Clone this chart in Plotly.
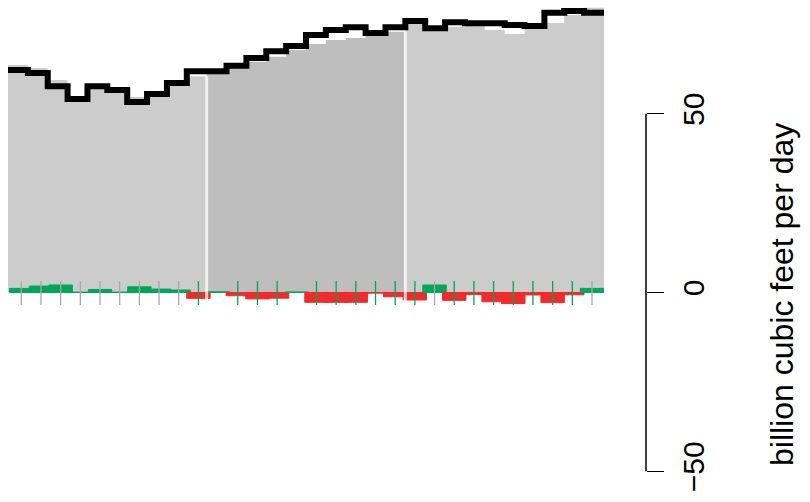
import numpy as np
import plotly.graph_objects as go

# ---- data ----
periods = list(range(1, 31))
segment = [1] * 10 + [2] * 10 + [3] * 10          # three shaded blocks
supply = [63.6, 62.8, 59.4, 54.8, 57.5, 56.5, 54.7, 55.5, 58.5, 60.5,
          61.1, 62.8, 64.5, 65.9, 67.8, 69.5, 70.6, 71.2, 72.0, 72.9,
          75.4, 73.8, 74.3, 74.8, 73.4, 72.3, 74.0, 75.4, 77.6, 79.6]
demand = [62.2, 61.4, 57.7, 54.1, 57.7, 56.6, 53.3, 55.5, 58.6, 61.9,
          61.9, 63.4, 65.6, 67.5, 68.9, 72.0, 73.4, 74.2, 72.6, 74.2,
          75.9, 73.9, 75.6, 75.3, 75.3, 74.8, 74.5, 78.2, 78.7, 78.2]
change = [1.15, 1.8, 2.1, 0.1, 0.85, 0.1, 1.6, 0.95, 0.7, -1.65,
          0.2, -0.9, -1.8, -1.6, 0.15, -2.75, -2.75, -2.75, -0.2, -1.2,
          -2.1, 2.1, -2.2, -0.6, -2.6, -3.1, -0.7, -2.85, -0.65, 1.15]
tick_kind = ["grey"] * 9 + ["green", None, "green", "green", "green", None] + \
            ["green"] * 6 + ["grey"] + ["green"] * 7 + ["grey"]
y_ticks = [-50, 0, 50]
y_title = "billion cubic feet per day"

# ---- styles ----
W, H = 810, 502
FONT = "Liberation Sans, Arial, Helvetica, sans-serif"
GREEN = "#00A65A"
RED = "#EE2C2C"
seg_color = {1: "#CCCCCC", 2: "#BEBEBE", 3: "#CCCCCC"}
tick_color = {"grey": "#A8A8A8", "green": GREEN}

n = len(periods)
fig = go.Figure()

# grey blocks: one stepped filled area per segment (no seams between bars)
for s in sorted(set(segment)):
    idx = [i for i in range(n) if segment[i] == s]
    xs = idx + [idx[-1] + 1]
    ys = [supply[i] for i in idx] + [supply[idx[-1]]]
    fig.add_trace(go.Scatter(
        x=xs, y=ys, mode="lines", line=dict(width=0, shape="hv"),
        fill="tozeroy", fillcolor=seg_color[s],
        xaxis="x", yaxis="y", hoverinfo="skip", showlegend=False))

# black step line
fig.add_trace(go.Scatter(
    x=list(range(n + 1)), y=demand + [demand[-1]], mode="lines",
    line=dict(color="black", width=6, shape="hv"),
    xaxis="x", yaxis="y", hoverinfo="skip", showlegend=False))

# green / red change bars
cols = [GREEN if v >= 0 else RED for v in change]
fig.add_trace(go.Bar(
    x=list(range(n)), y=change, width=1.19,
    marker=dict(color=cols, line=dict(color=cols, width=1)),
    xaxis="x2", yaxis="y", hoverinfo="skip", showlegend=False))

# small tick marks across zero
for kind in ("grey", "green"):
    xs, ys = [], []
    for k, t in enumerate(tick_kind):
        if t == kind:
            xs += [k, k, None]
            ys += [3.2, -3.5, None]
    fig.add_trace(go.Scatter(
        x=xs, y=ys, mode="lines",
        line=dict(color=tick_color[kind], width=1.3),
        xaxis="x2", yaxis="y", hoverinfo="skip", showlegend=False))

# white separators between blocks
shapes = []
for i in range(1, n):
    if segment[i] != segment[i - 1]:
        shapes.append(dict(type="line", xref="x", yref="y", x0=i, x1=i,
                           y0=-3.3, y1=min(supply[i - 1], supply[i]),
                           line=dict(color="rgba(255,255,255,0.75)", width=3),
                           layer="above"))

AX_POS = 646 / W
shapes.append(dict(type="line", xref="paper", yref="y", x0=AX_POS, x1=AX_POS,
                   y0=min(y_ticks), y1=max(y_ticks),
                   line=dict(color="black", width=1.5)))

fig.update_layout(
    width=W, height=H,
    margin=dict(l=0, r=0, t=0, b=0),
    paper_bgcolor="white", plot_bgcolor="white",
    barmode="overlay",
    showlegend=False,
    font=dict(family=FONT, color="black"),
    xaxis=dict(domain=[8 / W, 604 / W], range=[0, n], visible=False,
               fixedrange=True),
    xaxis2=dict(overlaying="x", range=[-0.676, 29.61], visible=False,
                anchor="y"),
    yaxis=dict(range=[-58.6, 81.8], side="right", anchor="free",
               position=AX_POS, tickvals=y_ticks, ticks="outside",
               ticklen=17, tickwidth=1.5, tickcolor="black",
               showgrid=False, zeroline=False, showline=False,
               tickangle=-90, ticklabelstandoff=4,
               tickfont=dict(size=30, family=FONT, color="black")),
    shapes=shapes,
    annotations=[dict(text=y_title, xref="paper", yref="paper",
                      x=782 / W, y=1 - 295 / H, textangle=-90,
                      showarrow=False, xanchor="center", yanchor="middle",
                      font=dict(size=32, family=FONT, color="black"))],
)

fig.write_html("out.html",
               config={"displayModeBar": False, "staticPlot": True},
               post_script="document.body.style.margin='0';"
                           "document.body.style.padding='0';")
